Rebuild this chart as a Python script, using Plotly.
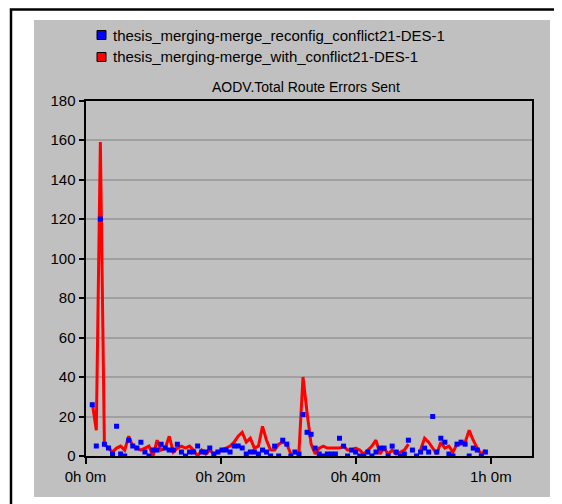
import plotly.graph_objects as go

# ---- data ----
series_names = [
    "thesis_merging-merge_reconfig_conflict21-DES-1",
    "thesis_merging-merge_with_conflict21-DES-1",
]
chart_title = "AODV.Total Route Errors Sent"

# sample times: one bucket every 36 s (0.6 min), first bucket near 1 min
n_buckets = 98
times_min = [round(1.0 + 0.6 * i, 2) for i in range(n_buckets)]

reconfig_values = [
    26, 5, 120, 6, 4, 1, 15, 1, 0, 8,
    5, 4, 7, 2, 0, 3, 3, 6, 4, 3,
    3, 6, 2, 0, 2, 2, 5, 2, 2, 4,
    1, 2, 3, 3, 2, 5, 5, 4, 1, 2,
    2, 1, 3, 2, 0, 5, 0, 8, 6, 0,
    2, 1, 21, 12, 11, 4, 1, 0, 1, 1,
    1, 9, 5, 0, 3, 2, 0, 0, 2, 0,
    2, 4, 4, 0, 5, 2, 0, 1, 8, 3,
    0, 2, 4, 2, 20, 2, 9, 7, 1, 0,
    6, 7, 6, 0, 4, 3, 0, 2,
]

with_conflict_values = [
    27, 13, 159, 6, 4, 2, 4, 5, 3, 10,
    5, 4, 3, 4, 5, 0, 8, 3, 4, 10,
    2, 4, 5, 4, 5, 3, 0, 3, 1, 3,
    1, 2, 3, 4, 5, 7, 10, 12, 7, 9,
    4, 5, 15, 8, 3, 3, 6, 7, 6, 1,
    None, 2, 40, 22, 6, 1, 4, 5, 4, 4,
    4, 4, 5, 3, 3, 4, 3, 1, 3, 5,
    8, 1, 4, 1, 3, 1, 2, 3, 6, None,
    None, 3, 9, 7, 4, 1, 7, 4, 5, 2,
    6, 6, 7, 13, 8, 4, 1, 3,
]

x_tick_vals = [0, 20, 40, 60]
x_tick_text = ["0h 0m", "0h 20m", "0h 40m", "1h 0m"]
y_tick_vals = [0, 20, 40, 60, 80, 100, 120, 140, 160, 180]

series_colors = ["#0000ff", "#ff0000"]

# ---- figure ----
W, H = 562, 504
OFF = 8  # page body margin

def px_x(x):
    return (x - OFF) / W

def px_y(y):
    return (H - (y - OFF)) / H

FONT = "Liberation Sans, Arial, sans-serif"

fig = go.Figure()

fig.add_trace(go.Scatter(
    x=times_min, y=with_conflict_values, mode="lines",
    name=series_names[1],
    line=dict(color=series_colors[1], width=3),
    connectgaps=False, showlegend=False,
))
fig.add_trace(go.Scatter(
    x=times_min, y=reconfig_values, mode="markers",
    name=series_names[0],
    marker=dict(symbol="square", size=5, color=series_colors[0], line=dict(width=0)),
    showlegend=False,
))

plot_left, plot_right, plot_top, plot_bottom = 85.5, 532, 100.5, 456

shapes = [
    # outer black frame
    dict(type="rect", xref="paper", yref="paper",
         x0=px_x(11), x1=px_x(556), y0=px_y(530), y1=px_y(9.5),
         line=dict(color="black", width=2.5), fillcolor="white", layer="below"),
    # grey panel
    dict(type="rect", xref="paper", yref="paper",
         x0=px_x(34), x1=px_x(550), y0=px_y(497), y1=px_y(20),
         line=dict(width=0), fillcolor="#c0c0c0", layer="below"),
]

annotations = []
legend_rows = [35, 57]
for i, (name, col) in enumerate(zip(series_names, series_colors)):
    yc = legend_rows[i]
    shapes.append(dict(type="rect", xref="paper", yref="paper",
                       x0=px_x(97), x1=px_x(106), y0=px_y(yc + 4.5), y1=px_y(yc - 4.5),
                       line=dict(color="black", width=1), fillcolor=col, layer="above"))
    annotations.append(dict(xref="paper", yref="paper", x=px_x(111), y=px_y(yc),
                            text=name, showarrow=False, xanchor="left", yanchor="middle",
                            font=dict(family=FONT, size=15, color="black")))

annotations.append(dict(xref="paper", yref="paper", x=px_x(306), y=px_y(87),
                        text=chart_title, showarrow=False, xanchor="center", yanchor="middle",
                        font=dict(family=FONT, size=14, color="black")))

fig.update_layout(
    width=W, height=H,
    margin=dict(l=0, r=0, t=0, b=0, pad=0, autoexpand=False),
    paper_bgcolor="white",
    plot_bgcolor="#f0f0f0",
    shapes=shapes,
    annotations=annotations,
    showlegend=False,
    font=dict(family=FONT, size=12, color="black"),
    xaxis=dict(
        domain=[px_x(plot_left), px_x(plot_right)],
        range=[0, 66.1],
        tickvals=x_tick_vals, ticktext=x_tick_text,
        ticks="outside", ticklen=6, tickwidth=1.5, tickcolor="black",
        showgrid=False, zeroline=False, automargin=False,
        showline=True, linecolor="black", linewidth=2, mirror=True,
        tickfont=dict(size=15),
    ),
    yaxis=dict(
        domain=[px_y(plot_bottom), px_y(plot_top)],
        range=[0, 180],
        tickvals=y_tick_vals,
        ticks="outside", ticklen=5, tickwidth=1.5, tickcolor="black",
        showgrid=True, gridcolor="#a0a0a0", gridwidth=2,
        zeroline=False, automargin=False,
        showline=True, linecolor="black", linewidth=2, mirror=True,
        tickfont=dict(size=15),
    ),
)

fig.write_html("out.html")
